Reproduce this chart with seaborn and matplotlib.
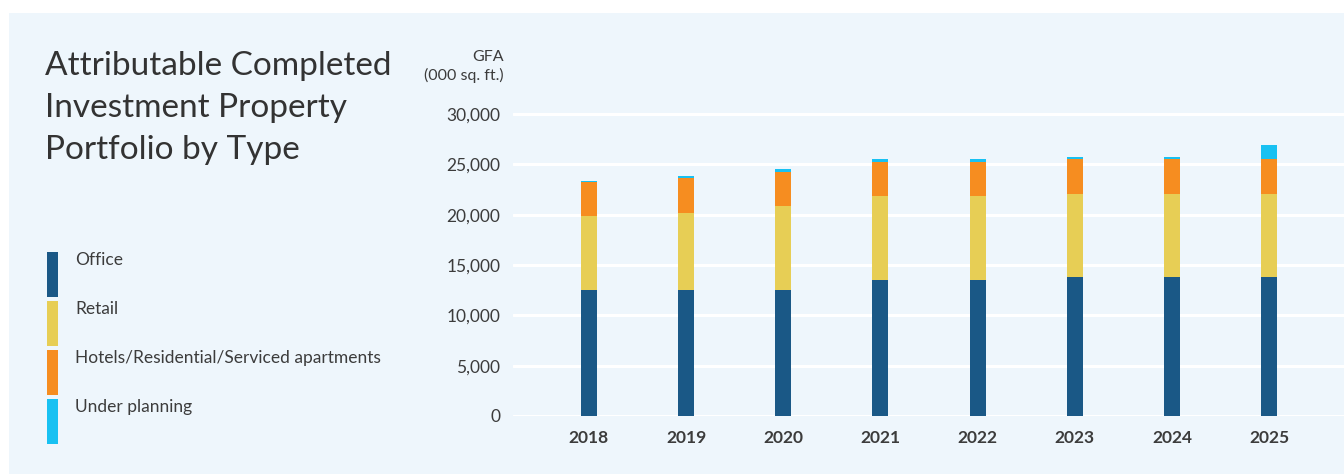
import matplotlib
matplotlib.use('Agg')
import matplotlib.pyplot as plt
import seaborn as sns
import pandas as pd
from matplotlib.patches import Rectangle

# data (000 sq. ft.)
years = ['2018', '2019', '2020', '2021', '2022', '2023', '2024', '2025']
office = [12500, 12500, 12500, 13500, 13500, 13800, 13800, 13800]
retail = [7400, 7700, 8350, 8350, 8350, 8250, 8250, 8250]
hotels = [3400, 3450, 3400, 3400, 3400, 3480, 3480, 3480]
planning = [70, 170, 270, 270, 270, 200, 200, 1400]

series = ['Office', 'Retail', 'Hotels/Residential/Serviced apartments', 'Under planning']
colors = ['#1A5886', '#E7CE55', '#F68D20', '#18C1F2']

df = pd.DataFrame({'year': years, 'Office': office, 'Retail': retail,
                   'Hotels/Residential/Serviced apartments': hotels,
                   'Under planning': planning})

bg = '#EEF6FC'
txt = '#3c3c3c'

sns.set_style('white')
plt.rcParams['font.family'] = ['Lato', 'DejaVu Sans']

fig = plt.figure(figsize=(13.44, 4.74), dpi=100)
fig.patch.set_facecolor('white')
fig.patches.append(Rectangle((9 / 1344, 0), 1, (474 - 13) / 474, transform=fig.transFigure,
                             facecolor=bg, edgecolor='none', zorder=-10))

ax = fig.add_axes([513 / 1344, 58 / 474, 1 - 513 / 1344, 316 / 474])
ax.set_facecolor(bg)

# stacked bars: draw cumulative totals, tallest first
cum = df[series].cumsum(axis=1)
for s, c in reversed(list(zip(series, colors))):
    sns.barplot(x=df['year'], y=cum[s], color=c, width=0.165, saturation=1,
                edgecolor='none', linewidth=0, ax=ax, zorder=3)

ax.set_xlim(-0.78, 7.77)
ax.set_ylim(0, 31400)
ax.set_yticks([0, 5000, 10000, 15000, 20000, 25000, 30000])
ax.set_yticklabels([f'{v:,}' for v in ax.get_yticks().astype(int)])
ax.grid(axis='y', color='white', linewidth=2.2, zorder=0)
ax.set_axisbelow(True)
for sp in ax.spines.values():
    sp.set_visible(False)
ax.tick_params(axis='y', length=0, pad=9, labelsize=12.5, colors=txt)
ax.tick_params(axis='x', length=0, pad=10, labelsize=12.5, colors=txt)
for lb in ax.get_xticklabels():
    lb.set_fontweight('bold')
ax.set_xlabel('')
ax.set_ylabel('')

# unit label
fig.text(504 / 1344, 1 - 57 / 474, 'GFA', ha='right', va='center', fontsize=11.5, color=txt)
fig.text(504 / 1344, 1 - 75 / 474, '(000 sq. ft.)', ha='right', va='center', fontsize=11.5, color=txt)

# title
fig.text(45 / 1344, 1 - 51 / 474, 'Attributable Completed\nInvestment Property\nPortfolio by Type',
         ha='left', va='top', fontsize=24, color='#333333', linespacing=1.5)

# legend
for i, (s, c) in enumerate(zip(series, colors)):
    top = 252 + i * 49
    fig.patches.append(Rectangle((47 / 1344, 1 - (top + 45) / 474), 11 / 1344, 45 / 474,
                                 transform=fig.transFigure, facecolor=c, edgecolor='none'))
    fig.text(75 / 1344, 1 - (top + 8) / 474, s, ha='left', va='center', fontsize=12.5, color=txt)

fig.savefig('out.png', dpi=100, facecolor=fig.get_facecolor())
